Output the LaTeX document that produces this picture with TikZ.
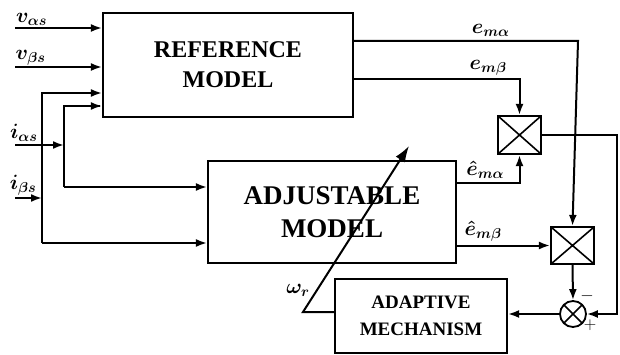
\documentclass[tikz,border=0pt]{standalone}
\usepackage{amsmath, amssymb}
\usepackage{fontspec}
\setmainfont{Liberation Serif}
\newfontfamily\blockfont{Liberation Serif}[BoldFont={Liberation Serif Bold}]
\usetikzlibrary{calc, positioning, arrows.meta}
\tikzset{>={Latex[width=8pt,length=11pt]}}
\tikzstyle{block} = [draw=black, line width=2.2pt, fill=white, rectangle, align=center, inner sep=0pt]
\tikzstyle{mult} = [draw=black, line width=2.2pt, rectangle, minimum width=43pt, minimum height=38pt, inner sep=0pt,
    path picture={\draw[line width=1.6pt] (path picture bounding box.north west) -- (path picture bounding box.south east)
    (path picture bounding box.north east) -- (path picture bounding box.south west);}]
\tikzstyle{sum} = [draw=black, line width=1.8pt, circle, minimum size=26pt, inner sep=0pt,
    path picture={\draw[line width=1.6pt] ($(path picture bounding box.center)+(-9pt,9pt)$) -- ($(path picture bounding box.center)+(9pt,-9pt)$)
    ($(path picture bounding box.center)+(9pt,9pt)$) -- ($(path picture bounding box.center)+(-9pt,-9pt)$);}]
\tikzstyle{lbl} = [inner sep=0pt, font=\fontsize{22}{22}\selectfont\boldmath]

\begin{document}
\begin{tikzpicture}[x=1pt, y=-1pt, line width=2pt]
    \useasboundingbox (0,0) rectangle (620,355);

    \node[block, minimum width=250pt, minimum height=104pt, font=\blockfont\bfseries\fontsize{24}{30}\selectfont] (refmodel) at (228,65) {REFERENCE\\MODEL};
    \node[block, minimum width=248pt, minimum height=102pt, font=\blockfont\bfseries\fontsize{27}{33}\selectfont] (adjmodel) at (332,212) {ADJUSTABLE\\MODEL};
    \node[block, minimum width=172pt, minimum height=74pt, font=\blockfont\bfseries\fontsize{19}{27}\selectfont] (adapt) at (421,316) {ADAPTIVE\\MECHANISM};

    \node[mult] (prodA) at (519.5,135) {};
    \node[mult, minimum height=37pt] (prodB) at (572.5,245.5) {};
    \node[sum] (err) at (573,314) {};

    % inputs
    \coordinate (va) at (15,28);
    \coordinate (vb) at (15,67);
    \coordinate (ia) at (15,145);
    \coordinate (ib) at (15,198);
    \coordinate (busA) at (64,106);
    \coordinate (busB) at (42,93);

    \draw[->] (va) -- node[lbl, above, pos=0.19, yshift=1pt]{$v_{\alpha s}$} (va -| refmodel.west);
    \draw[->] (vb) -- node[lbl, above, pos=0.18, yshift=1pt]{$v_{\beta s}$} (vb -| refmodel.west);
    \draw[->] (ia) -- node[lbl, above, pos=0.18, yshift=2pt]{$i_{\alpha s}$} (ia -| busA);
    \draw[->] (ib) -- node[lbl, above, pos=0.3, yshift=2pt]{$i_{\beta s}$} (ib -| busB);

    \draw[->] (busA |- adjmodel.west) ++(0,-25) coordinate (adjA) -- (adjA -| adjmodel.west);
    \draw (adjA) -- (busA) -- ++(36,0) coordinate (refA);
    \draw[->] (refA) -- (refA -| refmodel.west);
    \draw[->] (busB |- adjmodel.west) ++(0,31) coordinate (adjB) -- (adjB -| adjmodel.west);
    \draw (adjB) -- (busB) -- ++(50,0) coordinate (refB);
    \draw[->] (refB) -- (refB -| refmodel.west);

    % errors
    \draw[->] (refmodel.east |- 0,41) -- node[lbl, above, pos=0.61, yshift=3pt]{$e_{m\alpha}$} (578,41) -- (prodB.north);
    \draw[->] (refmodel.east |- 0,79) -- node[lbl, above, pos=0.81, yshift=3pt]{$e_{m\beta}$} (prodA.north |- 0,79) -- (prodA.north);
    \draw[->] (adjmodel.east |- 0,183) -- node[lbl, above, pos=0.45, yshift=3pt]{$\hat{e}_{m\alpha}$} (prodA.south |- 0,183) -- (prodA.south);
    \draw[->] (adjmodel.east |- prodB.west) -- node[lbl, above, pos=0.28, yshift=3pt]{$\hat{e}_{m\beta}$} (prodB.west);

    \draw[->] (prodA.east) -- (617,135) |- (err.east);
    \draw[->] (prodB.south) -- (err.north);
    \node[font=\fontsize{18}{18}\selectfont] at (587,296) {$-$};
    \node[font=\fontsize{18}{18}\selectfont] at (590,325) {$+$};
    \draw[->] (err.west) -- (err.west -| adapt.east);

    % speed
    \draw[-{Latex[width=11pt,length=16pt]}] (adapt.west |- 0,312) -- (303,312) -- node[lbl, left, pos=0.13, xshift=-6pt]{$\omega_r$} (409,146);

\end{tikzpicture}
\end{document}
